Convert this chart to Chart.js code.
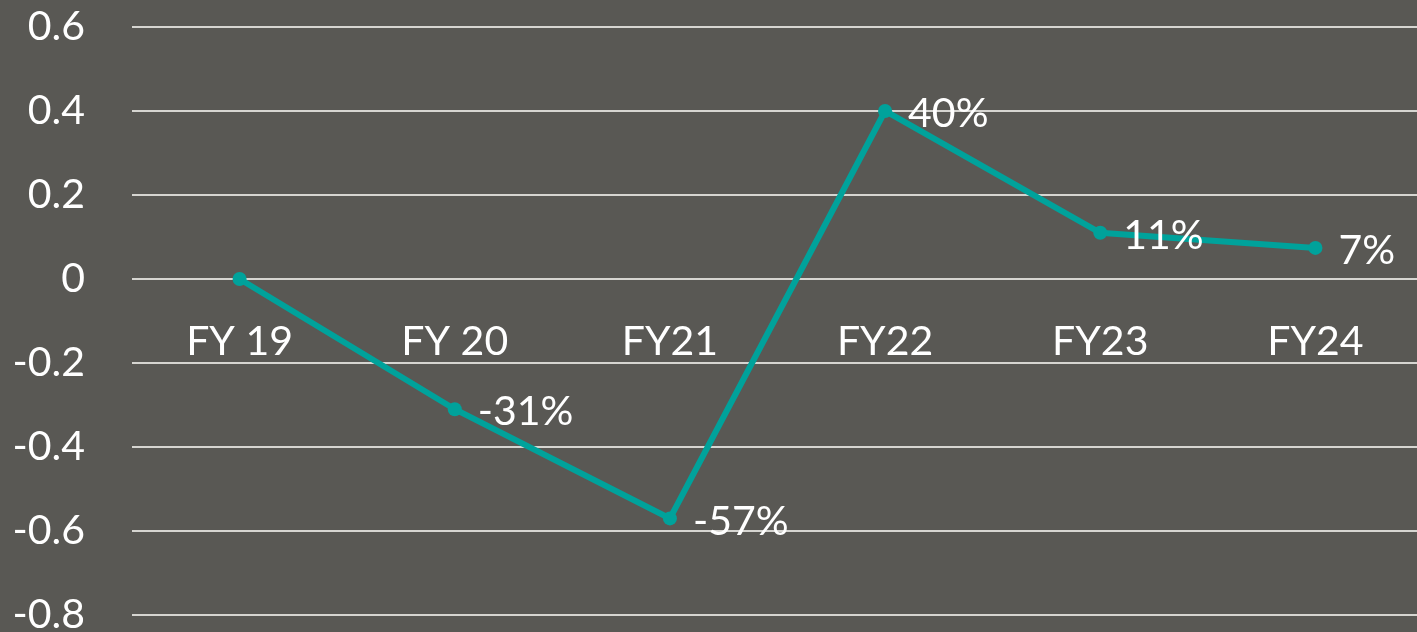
<!DOCTYPE html>
<html>
<head>
<meta charset="utf-8">
<script src="https://cdn.jsdelivr.net/npm/chart.js@4.4.1/dist/chart.umd.min.js"></script>
<style>
  html, body { margin: 0; padding: 0; background: #595854; overflow: hidden; }
  #wrap { width: 1430px; height: 632px; position: relative; }
</style>
</head>
<body>
<div id="wrap"><canvas id="chart"></canvas></div>
<script>
// ===== Data =====
const years = ["FY 19", "FY 20", "FY21", "FY22", "FY23", "FY24"];
const growth = [0, -0.31, -0.57, 0.40, 0.11, 0.074];
const yMin = -0.8;
const yMax = 0.6;
const yStep = 0.2;

const textFont = { family: "Lato, 'Open Sans', sans-serif", size: 41, lineHeight: 0.8 };

// category labels sit just under the zero line, values next to each point
const chartText = {
  id: "chartText",
  afterDatasetsDraw(chart) {
    const ctx = chart.ctx;
    const xs = chart.scales.x;
    const ys = chart.scales.y;
    const meta = chart.getDatasetMeta(0);
    const zeroY = ys.getPixelForValue(0);
    ctx.save();
    ctx.font = `${textFont.size}px ${textFont.family}`;
    ctx.fillStyle = "#ffffff";
    ctx.textBaseline = "middle";

    ctx.textAlign = "center";
    years.forEach((label, i) => {
      ctx.fillText(label, xs.getPixelForValue(i), zeroY + 63);
    });

    ctx.textAlign = "left";
    meta.data.forEach((pt, i) => {
      if (i === 0) return; // FY19 has no label
      ctx.fillText(Math.round(growth[i] * 100) + "%", pt.x + 23, pt.y + 3);
    });
    ctx.restore();
  }
};

const ctx = document.getElementById("chart").getContext("2d");
new Chart(ctx, {
  type: "line",
  data: {
    labels: years,
    datasets: [{
      data: growth,
      borderColor: "#00a29b",
      backgroundColor: "#00a29b",
      borderWidth: 6,
      pointRadius: 7,
      pointBackgroundColor: "#00a29b",
      pointBorderWidth: 0,
      tension: 0
    }]
  },
  options: {
    responsive: true,
    maintainAspectRatio: false,
    animation: false,
    layout: { padding: { top: 27, bottom: 17, left: 0, right: 4 } },
    plugins: { legend: { display: false }, tooltip: { enabled: false } },
    scales: {
      x: {
        display: false,
        offset: true
      },
      y: {
        min: yMin,
        max: yMax,
        afterFit(scale) { scale.width = 132; },
        grid: {
          color: "#d6d5d1",
          lineWidth: 2,
          drawTicks: true,
          tickLength: 47,
          tickColor: "rgba(0,0,0,0)"
        },
        border: { display: false },
        ticks: {
          stepSize: yStep,
          color: "#ffffff",
          font: textFont,
          padding: 0,
          callback: v => Math.round(v * 10) / 10
        }
      }
    }
  },
  plugins: [chartText]
});
</script>
</body>
</html>
